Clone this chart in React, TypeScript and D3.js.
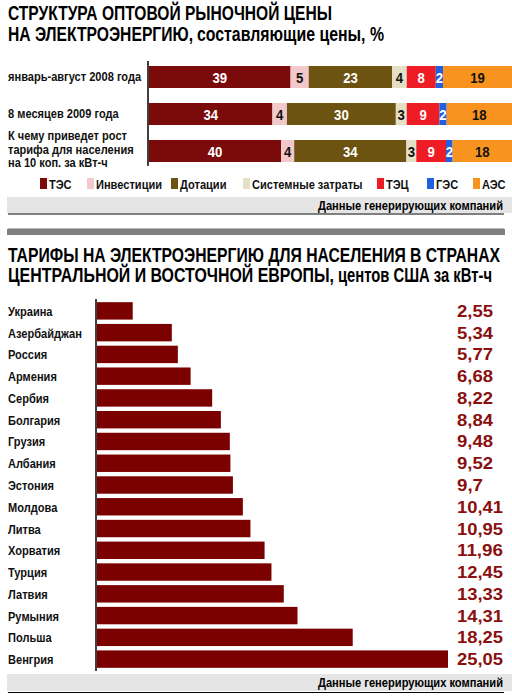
import React from 'react';
import * as d3 from 'd3';

// --- top chart data: structure of wholesale price, %
const periods = ['jan-aug-2008', '8m-2009', 'forecast'];
const periodLabels = [
  ['январь-август 2008 года'],
  ['8 месяцев 2009 года'],
  ['К чему приведет рост', 'тарифа для населения', 'на 10 коп. за кВт-ч'],
];
const components = ['ТЭС', 'Инвестиции', 'Дотации', 'Системные затраты', 'ТЭЦ', 'ГЭС', 'АЭС'];
const tes = [39, 34, 40];
const investments = [5, 4, 4];
const subsidies = [23, 30, 34];
const systemCosts = [4, 3, 3];
const tec = [8, 9, 9];
const ges = [2, 2, 2];
const aes = [19, 18, 18];

// --- bottom chart data: tariffs for households, US cents per kWh
const countries = [
  'Украина', 'Азербайджан', 'Россия', 'Армения', 'Сербия', 'Болгария', 'Грузия', 'Албания',
  'Эстония', 'Молдова', 'Литва', 'Хорватия', 'Турция', 'Латвия', 'Румыния', 'Польша', 'Венгрия',
];
const tariffs = [2.55, 5.34, 5.77, 6.68, 8.22, 8.84, 9.48, 9.52, 9.7, 10.41, 10.95, 11.96, 12.45, 13.33, 14.31, 18.25, 25.05];

const colors = ['#7b0b0b', '#f2c8cb', '#6d5311', '#e3e0c6', '#ee1c25', '#1f5fe0', '#f7931e'];
const darkText = [false, true, false, true, false, false, true];
const legendX = [40, 87, 171, 243, 377, 427, 473];

const FONT = "'Liberation Sans', Arial, sans-serif";

const fmt = (v: number) => String(v).replace('.', ',');

// condensed text: bold Liberation Sans squeezed horizontally
function Cond({
  x, y, size = 13.5, sx = 0.82, anchor = 'start', fill = '#111', weight = 700, children,
}: {
  x: number; y: number; size?: number; sx?: number; anchor?: string; fill?: string; weight?: number;
  children: React.ReactNode;
}) {
  return (
    <text
      transform={`translate(${x},${y}) scale(${sx},1)`}
      fontSize={size}
      fontWeight={weight}
      textAnchor={anchor}
      fill={fill}
    >
      {children}
    </text>
  );
}

export default function App() {
  const seriesValues = [tes, investments, subsidies, systemCosts, tec, ges, aes];
  const table = periods.map((p, i) => {
    const row: Record<string, number | string> = { period: p };
    components.forEach((c, k) => (row[c] = seriesValues[k][i]));
    return row;
  });
  const stacked = d3
    .stack<Record<string, number | string>>()
    .keys(components)
    .value((d, key) => d[key] as number)
    .offset(d3.stackOffsetExpand)(table);

  const xTop = d3.scaleLinear().domain([0, 1]).range([149, 512]);
  const yTop = d3.scalePoint<string>().domain(periods).range([77, 151]);
  const topBarH = 22;

  const yBot = d3.scaleBand<string>().domain(countries).range([300, 670]).paddingInner(0.2).paddingOuter(0.1);
  const xBot = d3.scaleLinear().domain([0, d3.max(tariffs) || 0]).range([97, 448]);

  return (
    <svg
      width={512}
      height={699}
      style={{ position: 'absolute', left: 0, top: 0, background: '#fff' }}
      fontFamily={FONT}
    >
      {/* Title 1 */}
      <text x={8} y={20} fontSize={19.5} fontWeight={900} textLength={324} lengthAdjust="spacingAndGlyphs">
        СТРУКТУРА ОПТОВОЙ РЫНОЧНОЙ ЦЕНЫ
      </text>
      <text x={8} y={41} fontSize={19.5} fontWeight={900} textLength={185} lengthAdjust="spacingAndGlyphs">
        НА ЭЛЕКТРОЭНЕРГИЮ,
      </text>
      <text x={197} y={41} fontSize={19.5} fontWeight={700} textLength={187} lengthAdjust="spacingAndGlyphs">
        составляющие цены, %
      </text>

      {/* Row labels */}
      {periods.map((p, i) => {
        const lines = periodLabels[i];
        const cy = yTop(p) || 0;
        const shift = lines.length > 1 ? -1.5 : 0;
        return lines.map((l, j) => (
          <Cond key={p + j} x={8} y={cy + 4 + shift + (j - (lines.length - 1) / 2) * 13.5} size={13.5}>
            {l}
          </Cond>
        ));
      })}

      {/* Stacked bars */}
      {stacked.map((s, k) => (
        <g key={s.key}>
          {s.map((d, i) => {
            const x0 = xTop(d[0]);
            const x1 = xTop(d[1]);
            const cy = yTop(periods[i]) || 0;
            return (
              <g key={i}>
                <rect x={x0} y={cy - topBarH / 2} width={x1 - x0} height={topBarH} fill={colors[k]} />
                <Cond
                  x={(x0 + x1) / 2}
                  y={cy + 5.5}
                  anchor="middle"
                  size={15.5}
                  sx={0.85}
                  fill={darkText[k] ? '#111' : '#fff'}
                >
                  {seriesValues[k][i]}
                </Cond>
              </g>
            );
          })}
        </g>
      ))}
      <line x1={148} x2={148} y1={61} y2={166} stroke="#000" strokeWidth={1.5} />

      {/* Legend */}
      {components.map((c, k) => (
        <g key={c}>
          <rect x={legendX[k]} y={178} width={7} height={11} fill={colors[k]} />
          <Cond x={legendX[k] + 9} y={188.5} size={13.5}>
            {c}
          </Cond>
        </g>
      ))}

      {/* Source 1 */}
      <rect x={7} y={197} width={505} height={16} fill="#e5e5e5" />
      <line x1={8} x2={504} y1={214} y2={214} stroke="#000" strokeWidth={1.2} />
      <text x={503} y={210} textAnchor="end" fontSize={13} fontWeight={700} textLength={185} lengthAdjust="spacingAndGlyphs">
        Данные генерирующих компаний
      </text>
      <line x1={8} x2={504} y1={228.5} y2={228.5} stroke="#bbb" strokeWidth={1} />
      <rect x={7} y={229} width={498} height={6} fill="#7f7f7f" />

      {/* Title 2 */}
      <text x={8} y={262} fontSize={19.5} fontWeight={900} textLength={492} lengthAdjust="spacingAndGlyphs">
        ТАРИФЫ НА ЭЛЕКТРОЭНЕРГИЮ ДЛЯ НАСЕЛЕНИЯ В СТРАНАХ
      </text>
      <text x={8} y={282} fontSize={19.5} fontWeight={900} textLength={326} lengthAdjust="spacingAndGlyphs">
        ЦЕНТРАЛЬНОЙ И ВОСТОЧНОЙ ЕВРОПЫ,
      </text>
      <text x={338} y={282} fontSize={19.5} fontWeight={700} textLength={154} lengthAdjust="spacingAndGlyphs">
        центов США за кВт-ч
      </text>

      {/* Country bars */}
      {countries.map((c, i) => {
        const y = yBot(c) || 0;
        const h = yBot.bandwidth();
        const v = tariffs[i];
        const label = fmt(v);
        const len = label.replace(',', '').length * 10 + 6;
        return (
          <g key={c}>
            <Cond x={8} y={y + h / 2 + 5} size={13.5}>
              {c}
            </Cond>
            <rect x={xBot(0)} y={y} width={xBot(v) - xBot(0)} height={h} fill="#7b0000" />
            <text
              x={457}
              y={y + h / 2 + 6}
              fontSize={16}
              fontWeight={900}
              fill="#8a0f0f"
              textLength={len}
              lengthAdjust="spacingAndGlyphs"
            >
              {label}
            </text>
          </g>
        );
      })}
      <line x1={96} x2={96} y1={299} y2={671} stroke="#000" strokeWidth={1.5} />

      {/* Source 2 */}
      <rect x={7} y={674} width={505} height={17} fill="#e5e5e5" />
      <line x1={8} x2={504} y1={692.5} y2={692.5} stroke="#000" strokeWidth={1.2} />
      <text x={503} y={687} textAnchor="end" fontSize={13} fontWeight={700} textLength={185} lengthAdjust="spacingAndGlyphs">
        Данные генерирующих компаний
      </text>
    </svg>
  );
}
